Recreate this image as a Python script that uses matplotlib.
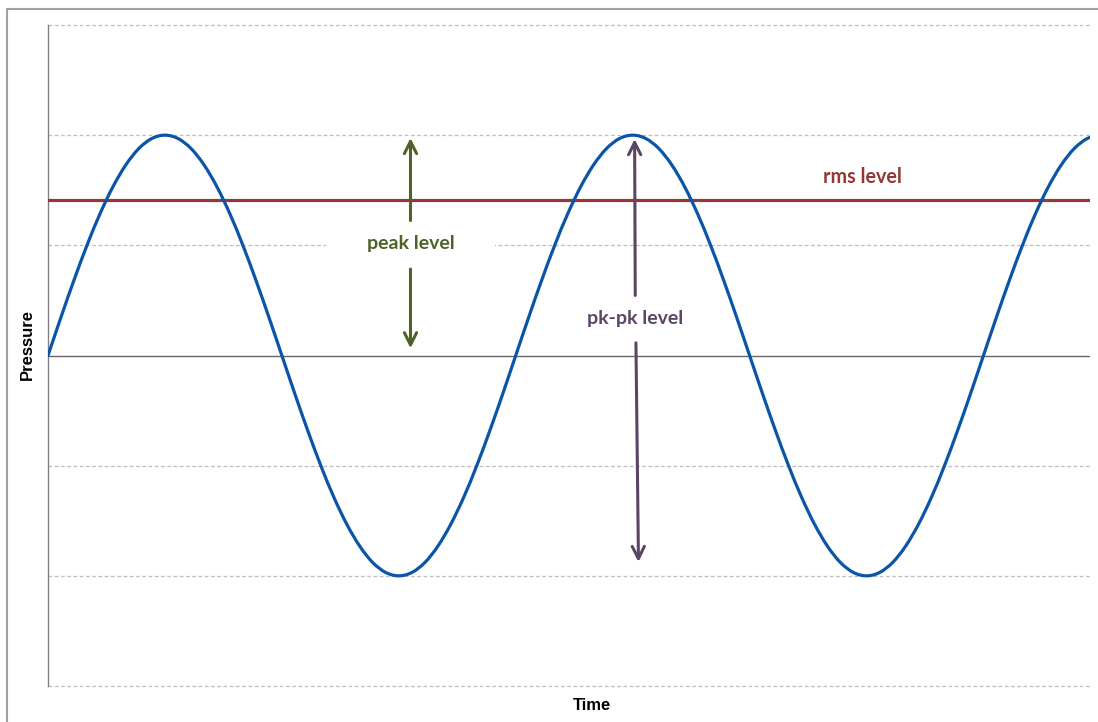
import matplotlib
matplotlib.use('Agg')
from matplotlib import pyplot as plt
from matplotlib.patches import Rectangle, PathPatch
from matplotlib.path import Path
from matplotlib.lines import Line2D

# Time axis in degrees of phase, pressure
time_deg = list(range(0, 820, 10))
pressure = [
    0.000, 0.174, 0.342, 0.500, 0.643, 0.766, 0.866, 0.940, 0.985, 1.000,
    0.985, 0.940, 0.866, 0.766, 0.643, 0.500, 0.342, 0.174,
    0.000, -0.174, -0.342, -0.500, -0.643, -0.766, -0.866, -0.940, -0.985, -1.000,
    -0.985, -0.940, -0.866, -0.766, -0.643, -0.500, -0.342, -0.174,
    0.000, 0.174, 0.342, 0.500, 0.643, 0.766, 0.866, 0.940, 0.985, 1.000,
    0.985, 0.940, 0.866, 0.766, 0.643, 0.500, 0.342, 0.174,
    0.000, -0.174, -0.342, -0.500, -0.643, -0.766, -0.866, -0.940, -0.985, -1.000,
    -0.985, -0.940, -0.866, -0.766, -0.643, -0.500, -0.342, -0.174,
    0.000, 0.174, 0.342, 0.500, 0.643, 0.766, 0.866, 0.940, 0.985, 1.000,
]
rms_level = 0.707
grid_levels = [-1.5, -1.0, -0.5, 0.5, 1.0, 1.5]

# annotation positions (degrees, pressure)
peak_x = 279
pkpk_x = 453
pkpk_bottom = -0.95
rms_label_x = 627

BLUE = '#0B55A8'
RED = '#953735'
GREEN = '#4F6228'
PURPLE = '#5A4565'
LABEL_FONT = ['Lato', 'DejaVu Sans']


def smooth_path(xs, ys):
    """Smoothed line through the points (Catmull-Rom as cubic Bezier), like a spreadsheet 'smoothed line'."""
    pts = list(zip(xs, ys))
    verts = [pts[0]]
    codes = [Path.MOVETO]
    n = len(pts)
    for i in range(n - 1):
        p0 = pts[max(i - 1, 0)]
        p1 = pts[i]
        p2 = pts[i + 1]
        p3 = pts[min(i + 2, n - 1)]
        c1 = (p1[0] + (p2[0] - p0[0]) / 6, p1[1] + (p2[1] - p0[1]) / 6)
        c2 = (p2[0] - (p3[0] - p1[0]) / 6, p2[1] - (p3[1] - p1[1]) / 6)
        verts += [c1, c2, p2]
        codes += [Path.CURVE4] * 3
    return Path(verts, codes)


fig = plt.figure(figsize=(10.98, 7.22), dpi=100)
ax = fig.add_axes([48 / 1098, 1 - 686 / 722, (1090 - 48) / 1098, (686 - 25) / 722])

# grid
for g in grid_levels:
    ax.axhline(g, color='#BDBDBD', lw=0.9, ls=(0, (3, 2)), zorder=1, clip_on=False)
ax.axhline(0, color='#666666', lw=1.0, zorder=2)

# curve + rms
ax.add_patch(PathPatch(smooth_path(time_deg, pressure), facecolor='none',
                       edgecolor=BLUE, lw=2.3, zorder=4, capstyle='round'))
ax.axhline(rms_level, color=RED, lw=2.3, zorder=3)
ax.text(rms_label_x, 0.81, 'rms level', color=RED, fontsize=14.2, fontweight='bold',
        family=LABEL_FONT, ha='center', va='center', zorder=6)

# peak level arrow with white box over grid
ax.add_patch(Rectangle((peak_x - 65, 0.415), 130, 0.19, facecolor='white',
                       edgecolor='none', zorder=2.5))
arrow_kw = dict(arrowstyle='->', lw=2.2, mutation_scale=22)
ax.annotate('', xy=(peak_x, 1.0), xytext=(peak_x, 0.6),
            arrowprops=dict(color=GREEN, **arrow_kw), zorder=5)
ax.annotate('', xy=(peak_x, 0.02), xytext=(peak_x, 0.405),
            arrowprops=dict(color=GREEN, **arrow_kw), zorder=5)
ax.text(peak_x, 0.51, 'peak level', color=GREEN, fontsize=14, fontweight='bold',
        family=LABEL_FONT, ha='center', va='center', zorder=6)

# pk-pk arrow
ax.annotate('', xy=(pkpk_x - 1.5, 0.995), xytext=(pkpk_x - 1, 0.26),
            arrowprops=dict(color=PURPLE, **arrow_kw), zorder=5)
ax.annotate('', xy=(pkpk_x + 1.5, pkpk_bottom), xytext=(pkpk_x - 0.5, 0.07),
            arrowprops=dict(color=PURPLE, **arrow_kw), zorder=5)
ax.text(pkpk_x - 1, 0.17, 'pk-pk level', color=PURPLE, fontsize=14, fontweight='bold',
        family=LABEL_FONT, ha='center', va='center', zorder=6)

ax.set_xlim(0, 802)
ax.set_ylim(-1.5, 1.5)
ax.set_xticks([])
ax.set_yticks([])
for s in ['top', 'right', 'bottom']:
    ax.spines[s].set_visible(False)
ax.spines['left'].set_color('#808080')
ax.spines['left'].set_linewidth(1.0)

fig.text(592 / 1098, 1 - 705 / 722, 'Time', fontsize=12, fontweight='bold',
         family='Liberation Sans', ha='center', va='center')
fig.text(27 / 1098, 1 - 345 / 722, 'Pressure', fontsize=12, fontweight='bold',
         family='Liberation Sans', ha='center', va='center', rotation=90)

# outer chart border (left and top edges visible)
fig.add_artist(Line2D([6.5 / 1098, 6.5 / 1098, 1.0], [0.0, 1 - 9 / 722, 1 - 9 / 722],
                      transform=fig.transFigure, color='#A0A0A0', lw=1.5))

fig.savefig('out.png', dpi=100, facecolor='white')
